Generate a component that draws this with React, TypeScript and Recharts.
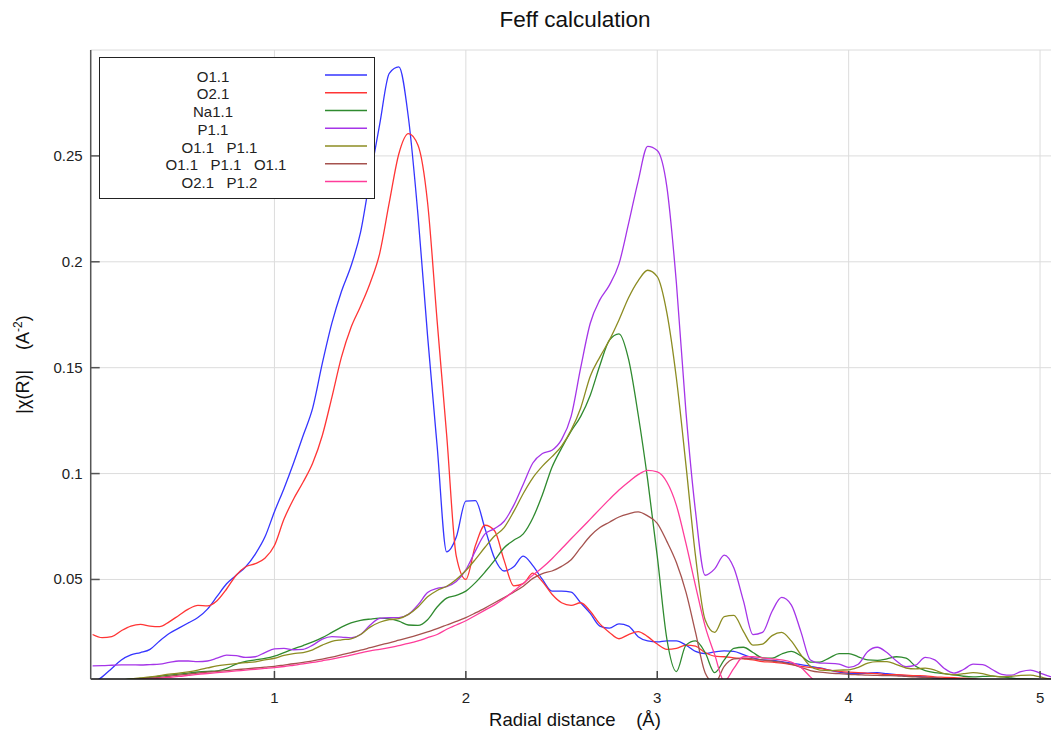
import React from 'react';
import { LineChart, Line, XAxis, YAxis, CartesianGrid, Legend, Label } from 'recharts';

const FONT = '"Liberation Sans", Arial, sans-serif';

// Radial distance sample grid (Å)
const radialDistance = [
  0.05, 0.1, 0.15, 0.2, 0.25, 0.3, 0.35, 0.4, 0.45, 0.5,
  0.55, 0.6, 0.65, 0.7, 0.75, 0.8, 0.85, 0.9, 0.95, 1.0,
  1.05, 1.1, 1.15, 1.2, 1.25, 1.3, 1.35, 1.4, 1.45, 1.5,
  1.55, 1.6, 1.65, 1.7, 1.75, 1.8, 1.85, 1.9, 1.95, 2.0,
  2.05, 2.1, 2.15, 2.2, 2.25, 2.3, 2.35, 2.4, 2.45, 2.5,
  2.55, 2.6, 2.65, 2.7, 2.75, 2.8, 2.85, 2.9, 2.95, 3.0,
  3.05, 3.1, 3.15, 3.2, 3.25, 3.3, 3.35, 3.4, 3.45, 3.5,
  3.55, 3.6, 3.65, 3.7, 3.75, 3.8, 3.85, 3.9, 3.95, 4.0,
  4.05, 4.1, 4.15, 4.2, 4.25, 4.3, 4.35, 4.4, 4.45, 4.5,
  4.55, 4.6, 4.65, 4.7, 4.75, 4.8, 4.85, 4.9, 4.95, 5.0,
  5.05, 5.1,
];

const o11 = [
  0.001, 0.004, 0.008, 0.012, 0.0144, 0.0155, 0.017, 0.021, 0.0245, 0.027,
  0.0295, 0.032, 0.036, 0.042, 0.048, 0.052, 0.056, 0.062, 0.07, 0.082,
  0.093, 0.105, 0.118, 0.131, 0.152, 0.171, 0.186, 0.198, 0.214, 0.24,
  0.265, 0.289, 0.292, 0.268, 0.222, 0.165, 0.113, 0.063, 0.07, 0.087,
  0.0872, 0.074, 0.06, 0.054, 0.056, 0.061, 0.0565, 0.05, 0.0445, 0.0445,
  0.044, 0.039, 0.034, 0.028, 0.027, 0.029, 0.028, 0.023, 0.021, 0.0205,
  0.021, 0.021, 0.019, 0.016, 0.015, 0.0158, 0.0163, 0.016, 0.0145, 0.013,
  0.012, 0.0118, 0.0112, 0.0105, 0.0098, 0.009, 0.0082, 0.0072, 0.0062, 0.0057,
  0.0056, 0.0058, 0.006, 0.0055, 0.005, 0.0045, 0.0042, 0.004, 0.0035, 0.003,
  0.003, 0.0032, 0.003, 0.0025, 0.0022, 0.0025, 0.0028, 0.0025, 0.002, 0.0018,
  0.002, 0.002,
];

const o21 = [
  0.024, 0.0225, 0.023, 0.0258, 0.028, 0.0288, 0.028, 0.0277, 0.03, 0.033,
  0.036, 0.0378, 0.0375, 0.04, 0.0455, 0.052, 0.056, 0.0575, 0.06, 0.066,
  0.0785, 0.088, 0.096, 0.105, 0.118, 0.136, 0.155, 0.169, 0.179, 0.19,
  0.204, 0.228, 0.251, 0.2605, 0.255, 0.228, 0.172, 0.118, 0.061, 0.05,
  0.066, 0.0756, 0.073, 0.059, 0.047, 0.048, 0.053, 0.049, 0.043, 0.039,
  0.0378, 0.039, 0.035, 0.029, 0.025, 0.022, 0.024, 0.0254, 0.023, 0.0195,
  0.017, 0.0175, 0.019, 0.0185, 0.0155, 0.0138, 0.0135, 0.013, 0.0125, 0.012,
  0.0112, 0.011, 0.0105, 0.0098, 0.009, 0.0085, 0.008, 0.0072, 0.0066, 0.0062,
  0.006, 0.0057, 0.0055, 0.005, 0.005, 0.0048, 0.0046, 0.0045, 0.004, 0.0038,
  0.0036, 0.0034, 0.003, 0.0025, 0.002, 0.0022, 0.0028, 0.003, 0.0026, 0.002,
  0.002, 0.002,
];

const na11 = [
  0.0012, 0.0015, 0.002, 0.0025, 0.003, 0.0033, 0.0038, 0.0043, 0.0048, 0.0053,
  0.0058, 0.0063, 0.0066, 0.0068, 0.008, 0.01, 0.0113, 0.012, 0.0127, 0.0138,
  0.0155, 0.0172, 0.0188, 0.0205, 0.0225, 0.025, 0.0275, 0.0295, 0.0307, 0.0313,
  0.0317, 0.0314, 0.0303, 0.0285, 0.0283, 0.031, 0.037, 0.0412, 0.0425, 0.0445,
  0.0485, 0.0535, 0.059, 0.065, 0.0685, 0.0715, 0.079, 0.09, 0.103, 0.112,
  0.12, 0.127, 0.137, 0.151, 0.163, 0.166, 0.154, 0.128, 0.097, 0.061,
  0.022, 0.0065, 0.019, 0.021, 0.0155, 0.006, 0.012, 0.0175, 0.018, 0.0155,
  0.013, 0.0128, 0.0148, 0.016, 0.014, 0.011, 0.011, 0.013, 0.015, 0.015,
  0.0135, 0.012, 0.0118, 0.0125, 0.0135, 0.0128, 0.009, 0.007, 0.006, 0.0055,
  0.005, 0.0043, 0.004, 0.0042, 0.0044, 0.004, 0.0035, 0.003, 0.003, 0.0028,
  0.0025, 0.0025,
];

const p11 = [
  0.0092, 0.0093, 0.0095, 0.0097, 0.0097, 0.0096, 0.0098, 0.01, 0.0108, 0.0115,
  0.0115, 0.0112, 0.0115, 0.0128, 0.0143, 0.014, 0.0132, 0.0135, 0.0155, 0.0172,
  0.0175, 0.0168, 0.017, 0.019, 0.0218, 0.023, 0.0228, 0.0224, 0.024, 0.0285,
  0.0316, 0.032, 0.032, 0.0335, 0.038, 0.0438, 0.0458, 0.0466, 0.049, 0.0545,
  0.0635, 0.0715, 0.074, 0.0775, 0.085, 0.095, 0.105, 0.1095, 0.111, 0.116,
  0.127, 0.15, 0.171, 0.182, 0.189, 0.199, 0.218, 0.238, 0.2545, 0.2525,
  0.2355, 0.19, 0.129, 0.082, 0.052, 0.055, 0.0615, 0.0555, 0.04, 0.024,
  0.025, 0.035, 0.0415, 0.038, 0.0255, 0.012, 0.0105, 0.0104, 0.01, 0.0085,
  0.01, 0.016, 0.018, 0.0155, 0.0115, 0.0088, 0.0095, 0.0132, 0.012, 0.008,
  0.0058, 0.0075, 0.01, 0.0098, 0.0075, 0.0052, 0.0048, 0.0065, 0.0072, 0.0058,
  0.0042, 0.0035,
];

const o11p11 = [
  0.0012, 0.0015, 0.002, 0.0025, 0.003, 0.0035, 0.004, 0.0046, 0.0053, 0.0058,
  0.0064, 0.0072, 0.0082, 0.0092, 0.0098, 0.0103, 0.0107, 0.0111, 0.012, 0.0128,
  0.0142, 0.015, 0.0155, 0.0168, 0.019, 0.0208, 0.0215, 0.022, 0.024, 0.0275,
  0.0298, 0.031, 0.0315, 0.0335, 0.037, 0.0418, 0.0448, 0.0468, 0.05, 0.0542,
  0.0595, 0.0652, 0.0705, 0.0745, 0.082, 0.0906, 0.098, 0.1035, 0.108, 0.113,
  0.1205, 0.131, 0.146, 0.155, 0.163, 0.1725, 0.183, 0.191, 0.196, 0.193,
  0.176, 0.145, 0.104, 0.061, 0.031, 0.025, 0.0325, 0.033, 0.0255, 0.019,
  0.0195, 0.0235, 0.025, 0.021, 0.0145, 0.009, 0.0072, 0.007, 0.0072, 0.0073,
  0.0085, 0.0105, 0.0112, 0.0112, 0.0098, 0.0082, 0.0078, 0.0081, 0.0072, 0.0055,
  0.005, 0.0055, 0.006, 0.0055, 0.0045, 0.004, 0.0042, 0.0047, 0.0048, 0.004,
  0.003, 0.0028,
];

const o11p11o11 = [
  0.0012, 0.0014, 0.0017, 0.002, 0.0025, 0.003, 0.0034, 0.0038, 0.0043, 0.0048,
  0.0053, 0.0058, 0.0062, 0.0066, 0.007, 0.0074, 0.0078, 0.0082, 0.0086, 0.009,
  0.0096, 0.0102, 0.0109, 0.0116, 0.0124, 0.0133, 0.0144, 0.0155, 0.0166, 0.0178,
  0.019, 0.0201, 0.0213, 0.0225, 0.0238, 0.0252, 0.0268, 0.0285, 0.0302, 0.032,
  0.0342, 0.0365, 0.039, 0.0415, 0.044, 0.0468, 0.0505, 0.0528, 0.054, 0.0562,
  0.0593, 0.065, 0.0705, 0.0745, 0.077, 0.0795, 0.081, 0.0819, 0.08, 0.0765,
  0.068, 0.058, 0.044, 0.025, 0.006, 0.001, 0.009, 0.0125, 0.0128, 0.0125,
  0.012, 0.0115, 0.011, 0.01, 0.0085, 0.007, 0.0062, 0.0058, 0.0055, 0.0052,
  0.005, 0.0048, 0.0047, 0.0046, 0.0045, 0.0042, 0.004, 0.0038, 0.0035, 0.0032,
  0.003, 0.003, 0.0028, 0.0027, 0.0026, 0.0025, 0.0023, 0.0022, 0.0021, 0.002,
  0.002, 0.002,
];

const o21p12 = [
  0.0008, 0.001, 0.0013, 0.0016, 0.002, 0.0025, 0.003, 0.0034, 0.0038, 0.0042,
  0.0047, 0.0052, 0.0056, 0.006, 0.0064, 0.0068, 0.0072, 0.0076, 0.008, 0.0084,
  0.0089, 0.0095, 0.0101, 0.0108, 0.0116, 0.0124, 0.0133, 0.0143, 0.0153, 0.0163,
  0.017, 0.0178, 0.0188, 0.0198, 0.021, 0.0225, 0.024, 0.0265, 0.0285, 0.0305,
  0.033, 0.0355, 0.038, 0.041, 0.0445, 0.0482, 0.052, 0.0556, 0.0598, 0.0645,
  0.0692, 0.0738, 0.0785, 0.0832, 0.0878, 0.0922, 0.096, 0.0995, 0.1015, 0.1008,
  0.096, 0.085, 0.067, 0.047, 0.028, 0.0145, 0.002, 0.008, 0.0135, 0.0135,
  0.013, 0.0125, 0.012, 0.011, 0.0085, 0.004, 0.0005, 0, 0, 0,
  0, 0, 0, 0, 0, 0, 0, 0, 0, 0,
  0, 0, 0, 0, 0, 0, 0, 0, 0, 0,
  0, 0,
];

const xTicks = [1, 2, 3, 4, 5];
const yTicks = [0.05, 0.1, 0.15, 0.2, 0.25];

const series = [
  { key: 'o11', name: 'O1.1', color: '#3535ff', values: o11 },
  { key: 'o21', name: 'O2.1', color: '#ff3535', values: o21 },
  { key: 'na11', name: 'Na1.1', color: '#2f8a2f', values: na11 },
  { key: 'p11', name: 'P1.1', color: '#a535e8', values: p11 },
  { key: 'o11p11', name: 'O1.1   P1.1', color: '#8c8c22', values: o11p11 },
  { key: 'o11p11o11', name: 'O1.1   P1.1   O1.1', color: '#a5524e', values: o11p11o11 },
  { key: 'o21p12', name: 'O2.1   P1.2', color: '#ff3c9a', values: o21p12 },
];

const seriesOrder = series.map((s) => s.key);

const data = radialDistance.map((r, i) => {
  const row: Record<string, number> = { r };
  series.forEach((s) => {
    row[s.key] = s.values[i];
  });
  return row;
});

const BottomTick = (props: any) => {
  const { x, y, payload } = props;
  return (
    <g>
      <line x1={x} y1={y} x2={x} y2={y - 8} stroke="#444" strokeWidth={1.5} />
      <text x={x} y={y + 24} textAnchor="middle" fontSize={15} fill="#222" fontFamily={FONT}>
        {payload.value}
      </text>
    </g>
  );
};

const TopTick = (props: any) => {
  const { x, y } = props;
  return <line x1={x} y1={y} x2={x} y2={y + 7} stroke="#222" strokeWidth={1.5} />;
};

const LeftTick = (props: any) => {
  const { x, y, payload } = props;
  return (
    <g>
      <line x1={x} y1={y} x2={x + 9} y2={y} stroke="#555" strokeWidth={1.5} />
      <text x={x - 8} y={y + 5} textAnchor="end" fontSize={15} fill="#222" fontFamily={FONT}>
        {String(payload.value)}
      </text>
    </g>
  );
};

const XLabel = (props: any) => {
  const vb = props.viewBox || {};
  const cx = vb.x + vb.width / 2;
  return (
    <text x={cx} y={vb.y + 47} textAnchor="middle" fontSize={18.5} fill="#111" fontFamily={FONT} style={{ whiteSpace: 'pre' }}>
      {'Radial distance    (Å)'}
    </text>
  );
};

const YLabel = (props: any) => {
  const vb = props.viewBox || {};
  const cx = vb.x + 29;
  const cy = vb.y + vb.height / 2;
  return (
    <text
      x={cx}
      y={cy}
      transform={`rotate(-90 ${cx} ${cy})`}
      textAnchor="middle"
      fontSize={18}
      fill="#111"
      fontFamily={FONT}
      style={{ whiteSpace: 'pre' }}
    >
      {'|χ(R)|    (A'}
      <tspan dy={-7} fontSize={12}>-2</tspan>
      <tspan dy={7}>)</tspan>
    </text>
  );
};

const LegendBox = (props: any) => {
  const payload = [...(props.payload || [])].sort(
    (a: any, b: any) => seriesOrder.indexOf(a.dataKey) - seriesOrder.indexOf(b.dataKey)
  );
  return (
    <div
      style={{
        width: 276,
        height: 142,
        border: '1px solid #222',
        boxSizing: 'border-box',
        background: '#fff',
      }}
    >
      <svg width={274} height={140} style={{ display: 'block' }}>
        {payload.map((entry: any, i: number) => {
          const label = String(entry.value);
          const words = label.trim().split(/\s+/).length;
          const rowY = 18 + i * 17.75;
          return (
            <g key={label}>
              <text
                x={113 + 6.5 * (words - 1)}
                y={rowY + 5.5}
                textAnchor="middle"
                fontSize={15}
                fill="#222"
                fontFamily={FONT}
                style={{ whiteSpace: 'pre' }}
              >
                {label}
              </text>
              <line x1={225} y1={rowY - 1} x2={267} y2={rowY - 1} stroke={entry.color} strokeWidth={1.5} />
            </g>
          );
        })}
      </svg>
    </div>
  );
};

export default function App() {
  return (
    <div
      style={{
        position: 'fixed',
        left: 0,
        top: 0,
        width: 1051,
        height: 740,
        overflow: 'hidden',
        background: '#fff',
      }}
    >
      <div
        style={{
          position: 'absolute',
          left: 0,
          top: 7,
          width: 1150,
          textAlign: 'center',
          fontFamily: FONT,
          fontSize: 22.5,
          color: '#111',
          zIndex: 2,
        }}
      >
        Feff calculation
      </div>
      <LineChart
        width={1080}
        height={740}
        data={data}
        margin={{ top: 50, right: 20.8, bottom: 0, left: 0 }}
      >
        <CartesianGrid stroke="#dcdcdc" strokeWidth={1} />
        <XAxis
          dataKey="r"
          type="number"
          domain={[0.04, 5.1]}
          ticks={xTicks}
          allowDataOverflow
          height={61}
          tickSize={0}
          tickMargin={0}
          tick={<BottomTick />}
          axisLine={{ stroke: '#111', strokeWidth: 1.5 }}
          tickLine={false}
        >
          <Label content={<XLabel />} />
        </XAxis>
        <XAxis
          xAxisId="top"
          orientation="top"
          dataKey="r"
          type="number"
          domain={[0.04, 5.1]}
          ticks={xTicks}
          allowDataOverflow
          height={0}
          tickSize={0}
          tickMargin={0}
          tick={<TopTick />}
          axisLine={{ stroke: '#7a7a7a', strokeWidth: 2 }}
          tickLine={false}
        />
        <YAxis
          type="number"
          domain={[0.003, 0.3]}
          ticks={yTicks}
          allowDataOverflow
          width={90.7}
          tickSize={0}
          tickMargin={0}
          tick={<LeftTick />}
          axisLine={{ stroke: '#555', strokeWidth: 1.5 }}
          tickLine={false}
        >
          <Label content={<YLabel />} />
        </YAxis>
        <Legend
          layout="vertical"
          align="center"
          verticalAlign="middle"
          content={<LegendBox />}
          wrapperStyle={{ left: 99, top: 57, width: 276, height: 142 }}
        />
        {series.map((s) => (
          <Line
            key={s.key}
            dataKey={s.key}
            name={s.name}
            stroke={s.color}
            strokeWidth={1.3}
            dot={false}
            type="monotone"
            isAnimationActive={false}
          />
        ))}
      </LineChart>
    </div>
  );
}
